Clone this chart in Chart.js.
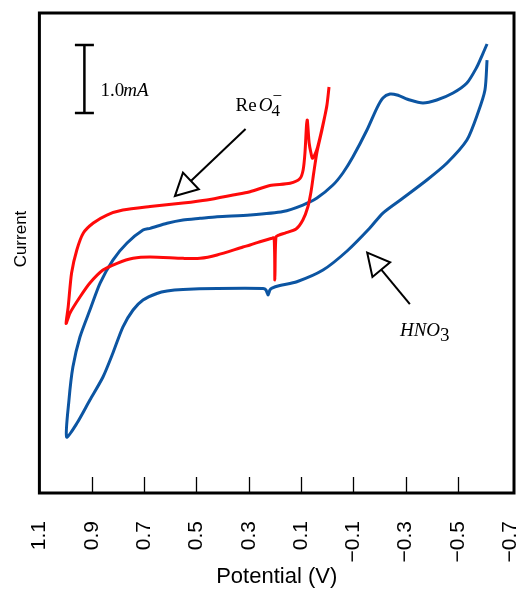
<!DOCTYPE html>
<html>
<head>
<meta charset="utf-8">
<script src="https://cdn.jsdelivr.net/npm/chart.js@4.4.1/dist/chart.umd.min.js"></script>
<style>
  html, body { margin: 0; padding: 0; background: #fff; }
  #wrap { width: 526px; height: 590px; }
</style>
</head>
<body>
<div id="wrap"><canvas id="cv" width="526" height="590"></canvas></div>
<script>
// tick values and labels of the potential axis (V), axis runs 1.1 -> -0.7
const potentialTicks = [1.1, 0.9, 0.7, 0.5, 0.3, 0.1, -0.1, -0.3, -0.5, -0.7];
const tickLabels = ["1.1", "0.9", "0.7", "0.5", "0.3", "0.1", "\u22120.1", "\u22120.3", "\u22120.5", "\u22120.7"];

// HNO3 voltammogram (blue): potential in V, current in mA (relative)
const hno3Potential = [
  -0.611, -0.591, -0.572, -0.534, -0.481, -0.419, -0.366, -0.316, -0.267, -0.240,
  -0.213, -0.190, -0.152, -0.098, -0.060, -0.022, 0.039, 0.093, 0.169, 0.295,
  0.421, 0.486, 0.551, 0.612, 0.677, 0.704, 0.765, 0.819, 0.868, 0.907,
  0.945, 0.972, 0.987, 0.996,
  0.956, 0.907, 0.857, 0.819, 0.781, 0.742, 0.704, 0.651, 0.612, 0.551,
  0.421, 0.245, 0.234, 0.226, 0.219, 0.211, 0.181, 0.116, 0.016, -0.076,
  -0.163, -0.213, -0.290, -0.381, -0.458, -0.534, -0.576, -0.603, -0.611
];
const hno3Current = [
  3.618, 3.441, 3.279, 3.044, 2.897, 2.794, 2.750, 2.794, 2.868, 2.882,
  2.824, 2.676, 2.353, 1.956, 1.721, 1.544, 1.353, 1.250, 1.154, 1.103,
  1.078, 1.054, 1.029, 0.981, 0.907, 0.882, 0.691, 0.441, 0.103, -0.294,
  -0.691, -1.132, -1.618, -2.162,
  -1.956, -1.618, -1.279, -0.926, -0.544, -0.294, -0.147, -0.051, -0.015, 0.007,
  0.022, 0.022, 0.000, -0.074, 0.000, 0.029, 0.066, 0.122, 0.294, 0.574,
  0.912, 1.132, 1.353, 1.618, 1.868, 2.206, 2.603, 2.941, 3.382
];

// ReO4- voltammogram (red)
const reo4Potential = [
  -0.007, 0.001, 0.020, 0.039, 0.051, 0.062, 0.074, 0.093, 0.119, 0.161,
  0.184, 0.196, 0.200, 0.203, 0.215, 0.257, 0.295, 0.322, 0.421, 0.486,
  0.551, 0.677, 0.742, 0.803, 0.857, 0.907, 0.945, 0.983, 0.998,
  0.990, 0.977, 0.957, 0.932, 0.894, 0.842, 0.781, 0.677, 0.551, 0.460,
  0.360, 0.295, 0.219, 0.142, 0.104, 0.092, 0.085, 0.079, 0.076, 0.069,
  0.062, 0.056, 0.040, 0.021, 0.002, -0.007
];
const reo4Current = [
  2.985, 2.721, 2.353, 2.029, 1.735, 1.441, 1.221, 1.029, 0.897, 0.838,
  0.809, 0.779, 0.147, 0.765, 0.757, 0.710, 0.662, 0.632, 0.515, 0.466,
  0.466, 0.485, 0.466, 0.393, 0.294, 0.103, -0.103, -0.338, -0.493,
  -0.250, 0.250, 0.588, 0.838, 0.985, 1.103, 1.176, 1.228, 1.279, 1.324,
  1.397, 1.446, 1.537, 1.569, 1.640, 1.765, 2.015, 2.426, 2.500, 2.162,
  2.015, 1.937, 2.059, 2.353, 2.691, 2.985
];

// annotation anchors in data units (V, mA)
const scaleBar = { v: 0.928, from: 2.603, to: 3.603 };
const scaleLabel = { v: 0.866, i: 2.853 };
const reo4Label = { v: 0.350, i: 2.632 };
const reo4Arrow = { from: [0.312, 2.368], to: [0.582, 1.382] };
const hno3Label = { v: -0.278, i: -0.676 };
const hno3Arrow = { from: [-0.316, -0.206], to: [-0.153, 0.549] };
const currentTitleAt = 0.75; // y-axis title centre, mA

const toPoints = (xs, ys) => xs.map((v, k) => ({ x: v, y: ys[k] }));

const SERIF = '"Liberation Serif", "Times New Roman", serif';
const SANS = '"Liberation Sans", Arial, sans-serif';

function drawArrow(ctx, x0, y0, x1, y1) {
  const ang = Math.atan2(y1 - y0, x1 - x0);
  const len = 22, half = 11.5;
  const bx = x1 - len * Math.cos(ang), by = y1 - len * Math.sin(ang);
  ctx.beginPath();
  ctx.moveTo(x0, y0);
  ctx.lineTo(bx, by);
  ctx.stroke();
  ctx.beginPath();
  ctx.moveTo(x1, y1);
  ctx.lineTo(bx + half * Math.sin(ang), by - half * Math.cos(ang));
  ctx.lineTo(bx - half * Math.sin(ang), by + half * Math.cos(ang));
  ctx.closePath();
  ctx.fillStyle = "#fff";
  ctx.fill();
  ctx.stroke();
}

const overlay = {
  id: "overlay",
  afterDatasetsDraw(chart) {
    const { ctx, chartArea: a, scales: { x, y } } = chart;
    ctx.save();
    ctx.strokeStyle = "#000";
    ctx.fillStyle = "#000";

    // frame
    ctx.lineWidth = 3;
    ctx.strokeRect(a.left, a.top, a.right - a.left, a.bottom - a.top);

    // inward tick marks
    ctx.lineWidth = 1.3;
    potentialTicks.slice(1, -1).forEach((v) => {
      const px = Math.round(x.getPixelForValue(v)) + 0.5;
      ctx.beginPath();
      ctx.moveTo(px, a.bottom);
      ctx.lineTo(px, a.bottom - 16);
      ctx.stroke();
    });

    // y axis title
    ctx.save();
    ctx.translate(a.left - 13.5, y.getPixelForValue(currentTitleAt));
    ctx.rotate(-Math.PI / 2);
    ctx.font = "17px " + SANS;
    ctx.textAlign = "center";
    ctx.textBaseline = "alphabetic";
    ctx.fillText("Current", 0, 0);
    ctx.restore();

    // scale bar
    ctx.lineWidth = 2.5;
    const sx = x.getPixelForValue(scaleBar.v);
    const sy0 = y.getPixelForValue(scaleBar.to);
    const sy1 = y.getPixelForValue(scaleBar.from);
    ctx.beginPath();
    ctx.moveTo(sx, sy0); ctx.lineTo(sx, sy1);
    ctx.moveTo(sx - 9.5, sy0); ctx.lineTo(sx + 9.5, sy0);
    ctx.moveTo(sx - 9.5, sy1); ctx.lineTo(sx + 9.5, sy1);
    ctx.stroke();

    ctx.textBaseline = "alphabetic";
    ctx.textAlign = "left";
    let tx = x.getPixelForValue(scaleLabel.v);
    let ty = y.getPixelForValue(scaleLabel.i);
    ctx.font = "19px " + SERIF;
    ctx.fillText("1.0", tx, ty);
    tx += ctx.measureText("1.0").width - 1;
    ctx.font = "italic 19px " + SERIF;
    ctx.fillText("mA", tx, ty);

    // ReO4- label
    tx = x.getPixelForValue(reo4Label.v);
    ty = y.getPixelForValue(reo4Label.i);
    ctx.font = "19px " + SERIF;
    ctx.fillText("Re", tx, ty);
    tx += ctx.measureText("Re").width + 2;
    ctx.font = "italic 19px " + SERIF;
    ctx.fillText("O", tx, ty);
    tx += ctx.measureText("O").width - 1;
    ctx.font = "17px " + SERIF;
    ctx.fillText("4", tx, ty + 5);
    ctx.fillText("\u2212", tx + 1, ty - 10);

    // HNO3 label
    tx = x.getPixelForValue(hno3Label.v);
    ty = y.getPixelForValue(hno3Label.i);
    ctx.font = "italic 19px " + SERIF;
    ctx.fillText("HNO", tx, ty);
    tx += ctx.measureText("HNO").width;
    ctx.font = "19px " + SERIF;
    ctx.fillText("3", tx, ty + 5);

    // arrows
    ctx.lineWidth = 2;
    drawArrow(ctx, x.getPixelForValue(reo4Arrow.from[0]), y.getPixelForValue(reo4Arrow.from[1]),
      x.getPixelForValue(reo4Arrow.to[0]), y.getPixelForValue(reo4Arrow.to[1]));
    drawArrow(ctx, x.getPixelForValue(hno3Arrow.from[0]), y.getPixelForValue(hno3Arrow.from[1]),
      x.getPixelForValue(hno3Arrow.to[0]), y.getPixelForValue(hno3Arrow.to[1]));

    ctx.restore();
  }
};

new Chart(document.getElementById("cv"), {
  type: "scatter",
  data: {
    datasets: [
      {
        label: "HNO3",
        data: toPoints(hno3Potential, hno3Current),
        showLine: true,
        borderColor: "#0c55a2",
        borderWidth: 3,
        pointRadius: 0,
        tension: 0.25,
        order: 2
      },
      {
        label: "ReO4-",
        data: toPoints(reo4Potential, reo4Current),
        showLine: true,
        borderColor: "#ff0a0a",
        borderWidth: 3,
        pointRadius: 0,
        tension: 0.25,
        order: 1
      }
    ]
  },
  options: {
    responsive: false,
    animation: false,
    layout: { padding: { top: 13, right: 12, bottom: 0, left: 39.4 } },
    plugins: { legend: { display: false }, tooltip: { enabled: false } },
    scales: {
      x: {
        type: "linear",
        reverse: true,
        min: -0.714,
        max: 1.1,
        afterBuildTicks: (scale) => {
          scale.ticks = potentialTicks.map((v) => ({ value: v }));
        },
        afterFit: (scale) => {
          scale.height = 97;
          scale.paddingLeft = 0;
          scale.paddingRight = 0;
        },
        ticks: {
          minRotation: 90,
          maxRotation: 90,
          autoSkip: false,
          padding: 28,
          color: "#000",
          font: { family: SANS, size: 21 },
          callback: (val, idx) => tickLabels[idx]
        },
        grid: { display: false, drawTicks: false },
        border: { display: false },
        title: {
          display: true,
          text: "Potential (V)",
          color: "#000",
          font: { family: SANS, size: 22 },
          padding: { top: 1, bottom: 0 }
        }
      },
      y: {
        display: false,
        min: -2.985,
        max: 4.074
      }
    }
  },
  plugins: [overlay]
});
</script>
</body>
</html>
